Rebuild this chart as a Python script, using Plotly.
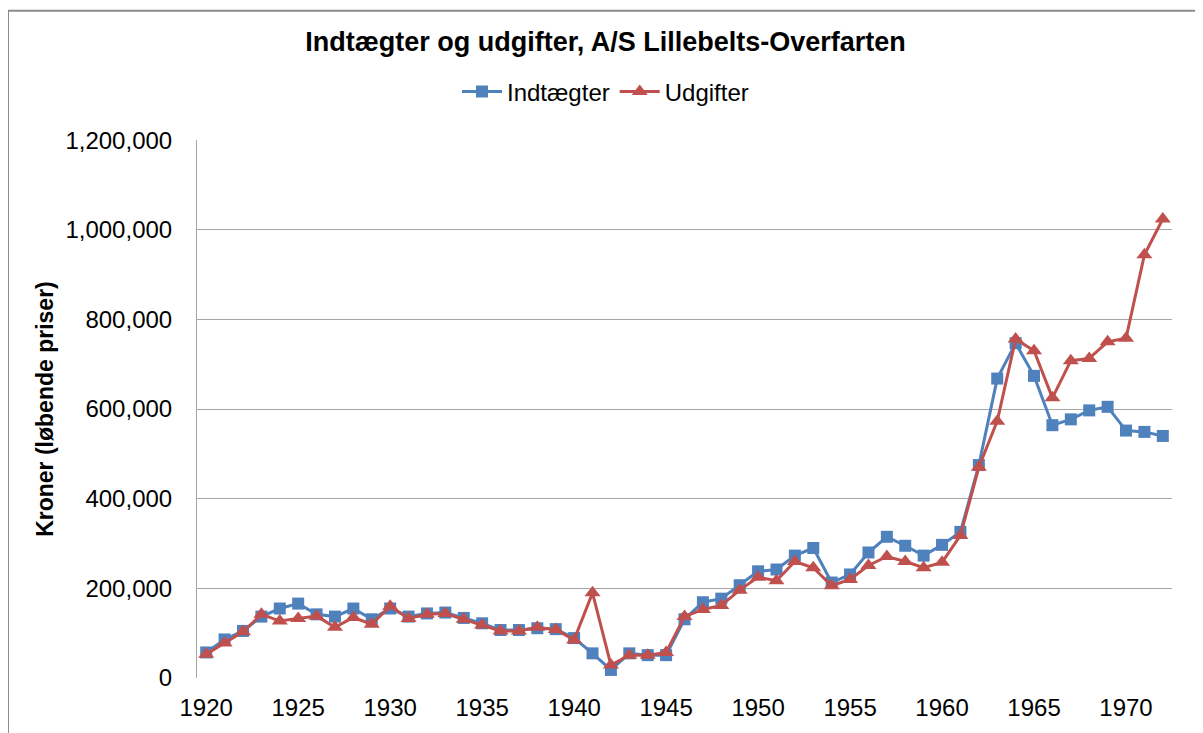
import plotly.graph_objects as go

years = list(range(1920, 1973))
indtaegter = [57000, 86000, 105000, 137000, 155000, 166000, 142000, 137000, 155000, 131000,
              155000, 137000, 144000, 146000, 134000, 122000, 107000, 107000, 111000, 109000,
              89000, 55000, 18000, 55000, 51000, 51000, 131000, 169000, 177000, 207000,
              238000, 242000, 273000, 290000, 213000, 231000, 280000, 315000, 295000, 273000,
              297000, 326000, 475000, 668000, 747000, 674000, 564000, 577000, 597000, 605000,
              552000, 549000, 540000]
udgifter = [53000, 78000, 103000, 142000, 127000, 133000, 138000, 113000, 135000, 120000,
            160000, 133000, 142000, 144000, 131000, 118000, 105000, 105000, 113000, 108000,
            85000, 190000, 29000, 51000, 51000, 57000, 137000, 153000, 162000, 196000,
            225000, 217000, 260000, 246000, 206000, 220000, 251000, 271000, 260000, 246000,
            258000, 318000, 470000, 573000, 756000, 730000, 625000, 708000, 713000, 750000,
            758000, 944000, 1024000]
x_ticks = list(range(1920, 1971, 5))
y_ticks = list(range(0, 1200001, 200000))

FONT = "Liberation Sans, Arial, sans-serif"
BLUE = "#4F81BD"
RED = "#C0504D"

W, H = 1195, 725
L, T, R, B = 189, 130, 31, 54

fig = go.Figure()
fig.add_trace(go.Scatter(x=years, y=indtaegter, name="Indtægter", mode="lines+markers",
                         line=dict(color=BLUE, width=3),
                         marker=dict(symbol="square", size=12, color=BLUE)))
fig.add_trace(go.Scatter(x=years, y=udgifter, name="Udgifter", mode="lines+markers",
                         line=dict(color=RED, width=3),
                         marker=dict(symbol="triangle-up", size=14, color=RED)))

fig.update_layout(
    width=W, height=H,
    margin=dict(l=L, r=R, t=T, b=B),
    paper_bgcolor="white", plot_bgcolor="white",
    font=dict(family=FONT, size=24, color="black"),
    title=dict(text="<b>Indtægter og udgifter, A/S Lillebelts-Overfarten</b>",
               x=0.5, xanchor="center", y=1 - 34 / H, yanchor="middle",
               font=dict(family=FONT, size=27, color="black")),
    legend=dict(orientation="h", xref="container", yref="container",
                x=0.5, xanchor="center", y=1 - 84 / H, yanchor="middle",
                font=dict(family=FONT, size=24), bgcolor="rgba(0,0,0,0)",
                itemwidth=40, tracegroupgap=0),
    showlegend=True,
)
fig.update_xaxes(range=[1919.5, 1972.5], tickmode="array", tickvals=x_ticks,
                 showgrid=False, showline=False, zeroline=False, ticks="",
                 ticklabelstandoff=13, tickfont=dict(size=24))
fig.update_yaxes(range=[0, 1200000], tickmode="array", tickvals=y_ticks, tickformat=",d",
                 showgrid=True, gridcolor="#A6A6A6", gridwidth=1, zeroline=False,
                 showline=True, linecolor="#A6A6A6", linewidth=1, ticks="",
                 ticklabelstandoff=19, tickfont=dict(size=24),
                 title=dict(text="<b>Kroner (løbende priser)</b>", standoff=5,
                            font=dict(size=23)))

pw = W - L - R
ph = H - T - B
# outer chart border (as in the original spreadsheet chart)
fig.add_shape(type="rect", xref="paper", yref="paper",
              x0=(0 - L) / pw, x1=1.1, y0=-0.3, y1=1 + T / ph,
              line=dict(color="#8C8C8C", width=2), fillcolor="rgba(0,0,0,0)", layer="below")

fig.write_html("out.html")
